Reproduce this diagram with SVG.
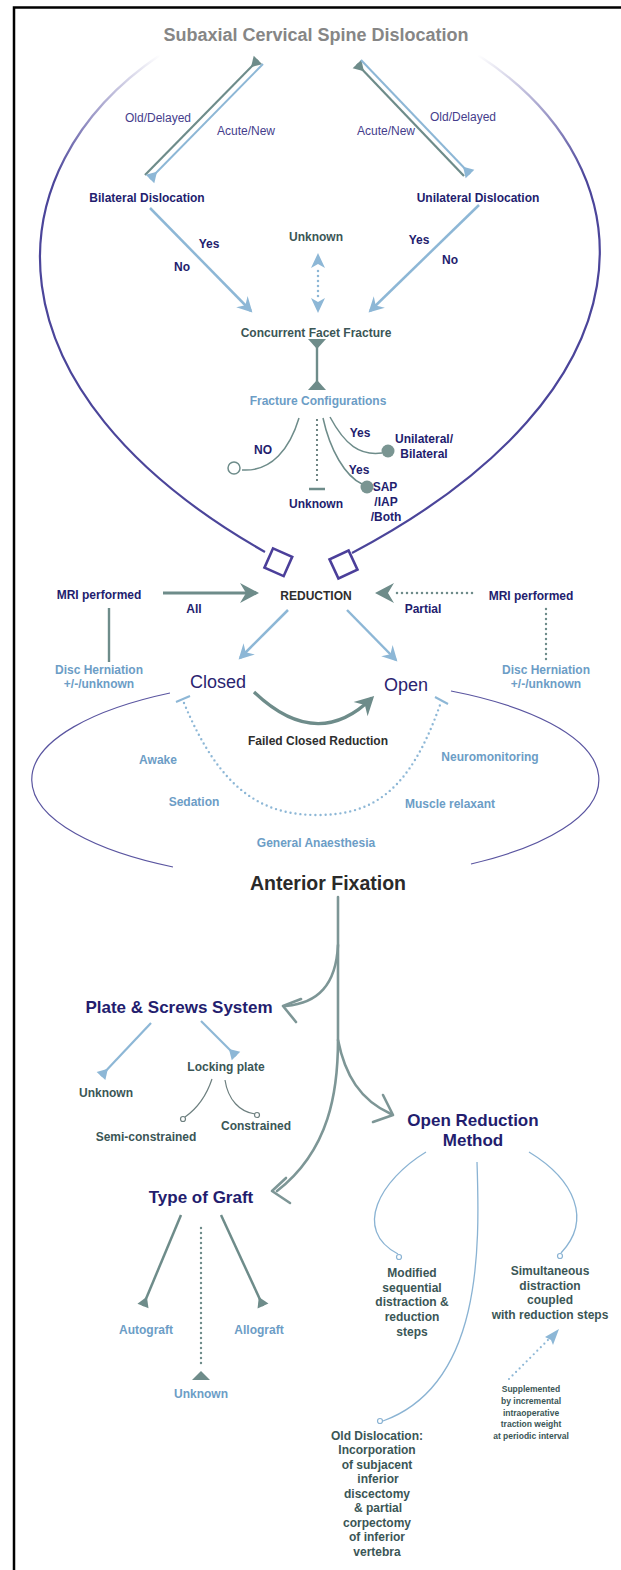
<svg xmlns="http://www.w3.org/2000/svg" width="621" height="1570" viewBox="0 0 621 1570">
<style>
text{font-family:"Liberation Sans",Arial,sans-serif;text-anchor:middle;font-weight:bold;font-size:12px}
.navy{fill:#231d6e}
.slate{fill:#3b5656}
.lb{fill:#6c9dc6}
.dk{fill:#2e2e2e}
.pur{fill:#453d8c;font-weight:normal}
.big{font-size:17px}
.teal{stroke:#6e8c8a;fill:none}
.blue{stroke:#8db7d6;fill:none}
.dot{stroke-dasharray:0 5;stroke-linecap:round}
.sk{stroke:#7d9696;fill:none;stroke-width:2.6;stroke-linecap:round;stroke-linejoin:round}
.thin{stroke:#8ab3d3;fill:none;stroke-width:1.3}
</style>
<defs>
<marker id="triT" markerUnits="userSpaceOnUse" viewBox="-11 -7 12 14" markerWidth="12" markerHeight="14" refX="0" refY="0" orient="auto"><path d="M0,-6 L0,6 L-10,0 z" fill="#6e8c8a"/></marker>
<marker id="triB" markerUnits="userSpaceOnUse" viewBox="-11 -7 12 14" markerWidth="12" markerHeight="14" refX="0" refY="0" orient="auto"><path d="M0,-6 L0,6 L-10,0 z" fill="#8db7d6"/></marker>
<marker id="arrB" markerUnits="userSpaceOnUse" viewBox="-16 -9 18 18" markerWidth="18" markerHeight="18" refX="-2" refY="0" orient="auto"><path d="M0,0 L-15,-8 L-10,0 L-15,8 z" fill="#8db7d6"/></marker>
<marker id="arrT" markerUnits="userSpaceOnUse" viewBox="-20 -11 22 22" markerWidth="22" markerHeight="22" refX="-3" refY="0" orient="auto"><path d="M0,0 L-19,-10 L-13,0 L-19,10 z" fill="#6e8c8a"/></marker>
<linearGradient id="fadeL" gradientUnits="userSpaceOnUse" x1="160" y1="55" x2="70" y2="190"><stop offset="0" stop-color="#4b459a" stop-opacity="0"/><stop offset="1" stop-color="#4b459a"/></linearGradient>
<linearGradient id="fadeR" gradientUnits="userSpaceOnUse" x1="478" y1="55" x2="565" y2="190"><stop offset="0" stop-color="#4b459a" stop-opacity="0"/><stop offset="1" stop-color="#4b459a"/></linearGradient>
</defs>
<rect width="621" height="1570" fill="#fff"/>
<path d="M14,1570 V7.5 H621" fill="none" stroke="#000" stroke-width="2.5"/>

<g id="connectors">
<!-- lens arcs -->
<path d="M160 55 C -10 170, -20 390, 265 552" fill="none" stroke="url(#fadeL)" stroke-width="2.2"/>
<path d="M478 55 C 655 170, 660 390, 352 553" fill="none" stroke="url(#fadeR)" stroke-width="2.2"/>
<!-- top double arrows -->
<line class="teal" x1="145" y1="175" x2="258" y2="60" stroke-width="2.2" marker-end="url(#triT)"/>
<line class="blue" x1="263" y1="64" x2="150" y2="179" stroke-width="2" marker-end="url(#triB)"/>
<line class="teal" x1="464" y1="176" x2="357" y2="64" stroke-width="2.2" marker-end="url(#triT)"/>
<line class="blue" x1="361" y1="60" x2="470" y2="174" stroke-width="2" marker-end="url(#triB)"/>
<!-- yes/no arrows -->
<line class="blue" x1="150" y1="208" x2="251" y2="311" stroke-width="2.5" marker-end="url(#arrB)"/>
<line class="blue" x1="479" y1="205" x2="370" y2="311" stroke-width="2.5" marker-end="url(#arrB)"/>
<!-- unknown dotted double arrow -->
<line class="blue dot" x1="318" y1="271" x2="318" y2="301" stroke-width="2.5"/>
<path d="M318,253 L311,268 L318,264 L325,268 z" fill="#8db7d6"/>
<path d="M318,313 L311,298 L318,302 L325,298 z" fill="#8db7d6"/>
<!-- concurrent -> configurations -->
<line class="teal" x1="317" y1="343" x2="317" y2="386" stroke-width="2.4"/>
<polygon points="308,339 326,339 317,349" fill="#6e8c8a"/>
<polygon points="308,390 326,390 317,380" fill="#6e8c8a"/>
<!-- fracture configuration branches -->
<path class="teal" d="M299 418 C 290 448, 272 472, 242 470" stroke-width="1.5"/>
<circle class="teal" cx="234" cy="468" r="6" stroke-width="1.5"/>
<line x1="317" y1="420" x2="317" y2="482" stroke="#4f6a68" stroke-width="2.2" class="dot"/>
<line x1="309" y1="489" x2="325" y2="489" stroke="#6e8c8a" stroke-width="2.5"/>
<path class="teal" d="M330 417 C 345 445, 360 456, 382 453" stroke-width="1.5"/>
<circle cx="388" cy="451" r="6.5" fill="#7a9592"/>
<path class="teal" d="M323 418 C 330 450, 345 476, 362 484" stroke-width="1.5"/>
<circle cx="367" cy="487" r="6.5" fill="#7a9592"/>
<!-- squares -->
<rect x="268" y="552" width="21" height="21" transform="rotate(24 279 562)" fill="none" stroke="#4b3f9a" stroke-width="2.6"/>
<rect x="333" y="554" width="21" height="21" transform="rotate(-25 343.5 564.5)" fill="none" stroke="#4b3f9a" stroke-width="2.6"/>
<!-- MRI / reduction -->
<line class="teal" x1="163" y1="593" x2="256" y2="593" stroke-width="3" marker-end="url(#arrT)"/>
<line class="teal dot" x1="472" y1="593" x2="394" y2="593" stroke-width="2.5"/>
<path d="M375,593 L394,583 L388,593 L394,603 z" fill="#6e8c8a"/>
<line class="teal" x1="109" y1="608" x2="109" y2="662" stroke-width="2.4"/>
<line class="teal dot" x1="546" y1="609" x2="546" y2="660" stroke-width="2.4"/>
<line class="blue" x1="288" y1="610" x2="240" y2="658" stroke-width="2.5" marker-end="url(#arrB)"/>
<line class="blue" x1="347" y1="610" x2="396" y2="660" stroke-width="2.5" marker-end="url(#arrB)"/>
<!-- failed closed reduction -->
<path class="teal" d="M254 692 Q 317 752 372 698" stroke-width="3.2" marker-end="url(#arrT)"/>
<!-- lower ellipse -->
<path d="M170 693 A284 101 0 0 0 173 867" fill="none" stroke="#5a55a0" stroke-width="1.2"/>
<path d="M451 691 A284 101 0 0 1 471 864" fill="none" stroke="#5a55a0" stroke-width="1.2"/>
<!-- dotted U -->
<path class="blue dot" d="M184 703 C 220 790, 262 815, 317 815 C 374 815, 410 790, 440 705" stroke-width="2.4"/>
<line class="blue" x1="176" y1="702" x2="190" y2="696" stroke-width="2"/>
<line class="blue" x1="435" y1="697" x2="448" y2="704" stroke-width="2"/>
<!-- anterior fixation tree -->
<path class="sk" d="M338 897 V1040 C 338 1090, 330 1150, 277 1191"/>
<polyline class="sk" points="286,1178 272,1191 290,1203"/>
<path class="sk" d="M338 945 C 336 985, 318 1003, 286 1006"/>
<polyline class="sk" points="301,999 283,1006 296,1022"/>
<path class="sk" d="M338 1040 C 345 1075, 360 1100, 391 1114"/>
<polyline class="sk" points="383,1095 393,1115 373,1122"/>
<!-- plate & screws -->
<line class="blue" x1="151" y1="1023" x2="101" y2="1076" stroke-width="2.2" marker-end="url(#triB)"/>
<line class="blue" x1="201" y1="1021" x2="236" y2="1056" stroke-width="2.2" marker-end="url(#triB)"/>
<path d="M212 1079 C 205 1100, 195 1110, 185 1117" fill="none" stroke="#6d7f7f" stroke-width="1.2"/>
<circle cx="183" cy="1119" r="2.5" fill="#fff" stroke="#6d7f7f" stroke-width="1.2"/>
<path d="M225 1080 C 228 1100, 240 1112, 255 1114" fill="none" stroke="#6d7f7f" stroke-width="1.2"/>
<circle cx="257" cy="1115" r="2.5" fill="#fff" stroke="#6d7f7f" stroke-width="1.2"/>
<!-- type of graft -->
<line class="teal" x1="181" y1="1215" x2="143" y2="1306" stroke-width="2.5" marker-end="url(#triT)"/>
<line class="teal" x1="221" y1="1215" x2="263" y2="1306" stroke-width="2.5" marker-end="url(#triT)"/>
<line class="teal dot" x1="201" y1="1228" x2="201" y2="1366" stroke-width="2.4"/>
<polygon points="192,1380 210,1380 201,1371" fill="#6e8c8a"/>
<!-- open reduction method -->
<path class="thin" d="M426 1152 C 380 1180, 352 1230, 398 1254"/>
<circle cx="399" cy="1257" r="2.5" fill="#fff" stroke="#8ab3d3" stroke-width="1.2"/>
<path class="thin" d="M529 1152 C 575 1180, 592 1220, 561 1253"/>
<circle cx="560" cy="1256" r="2.5" fill="#fff" stroke="#8ab3d3" stroke-width="1.2"/>
<path class="thin" d="M477 1162 C 480 1250, 482 1385, 383 1421"/>
<circle cx="380" cy="1421" r="2.5" fill="#fff" stroke="#8ab3d3" stroke-width="1.2"/>
<line class="blue dot" x1="509" y1="1379" x2="550" y2="1338" stroke-width="2.2"/>
<path d="M559,1329 L553,1345 L551,1340 L545,1337 z" fill="#8db7d6"/>
</g>

<g id="title"><text x="316" y="40.5" style="font-size:18px;fill:#868686">Subaxial Cervical Spine Dislocation</text></g>
<g id="edge-labels-top">
<text class="pur" x="158" y="122">Old/Delayed</text>
<text class="pur" x="246" y="135">Acute/New</text>
<text class="pur" x="386" y="135">Acute/New</text>
<text class="pur" x="463" y="121">Old/Delayed</text>
</g>
<g id="bilateral"><text class="navy" x="147" y="202">Bilateral Dislocation</text></g>
<g id="unilateral"><text class="navy" x="478" y="202">Unilateral Dislocation</text></g>
<g id="yes-no">
<text class="navy" x="209" y="248">Yes</text>
<text class="navy" x="182" y="271">No</text>
<text class="navy" x="419" y="244">Yes</text>
<text class="navy" x="450" y="264">No</text>
</g>
<g id="unknown-top"><text class="slate" x="316" y="241">Unknown</text></g>
<g id="concurrent"><text class="slate" x="316" y="337">Concurrent Facet Fracture</text></g>
<g id="configurations"><text class="lb" x="318" y="405">Fracture Configurations</text></g>
<g id="config-branches">
<text class="navy" x="263" y="454">NO</text>
<text class="navy" x="316" y="508">Unknown</text>
<text class="navy" x="360" y="437">Yes</text>
<text class="navy" x="359" y="474">Yes</text>
<text class="navy" x="424" y="443">Unilateral/</text>
<text class="navy" x="424" y="458">Bilateral</text>
<text class="navy" x="385" y="491">SAP</text>
<text class="navy" x="386" y="506">/IAP</text>
<text class="navy" x="386" y="521">/Both</text>
</g>
<g id="mri-left"><text class="navy" x="99" y="599">MRI performed</text><text class="navy" x="194" y="613">All</text></g>
<g id="reduction"><text class="dk" x="316" y="600">REDUCTION</text></g>
<g id="mri-right"><text class="navy" x="531" y="600">MRI performed</text><text class="navy" x="423" y="613">Partial</text></g>
<g id="disc-left"><text class="lb" x="99" y="674">Disc Herniation</text><text class="lb" x="99" y="688">+/-/unknown</text></g>
<g id="disc-right"><text class="lb" x="546" y="674">Disc Herniation</text><text class="lb" x="546" y="688">+/-/unknown</text></g>
<g id="closed"><text x="218" y="687.5" style="font-size:18px;font-weight:normal;fill:#2a2470">Closed</text></g>
<g id="open"><text x="406" y="690.5" style="font-size:18px;font-weight:normal;fill:#2a2470">Open</text></g>
<g id="failed"><text class="dk" x="318" y="745">Failed Closed Reduction</text></g>
<g id="anaesthesia">
<text class="lb" x="158" y="764">Awake</text>
<text class="lb" x="194" y="806">Sedation</text>
<text class="lb" x="316" y="847">General Anaesthesia</text>
<text class="lb" x="490" y="761">Neuromonitoring</text>
<text class="lb" x="450" y="808">Muscle relaxant</text>
</g>
<g id="anterior"><text x="328" y="890" style="font-size:19.5px;fill:#2a2a2a">Anterior Fixation</text></g>
<g id="plate"><text class="navy big" x="179" y="1013">Plate &amp; Screws System</text></g>
<g id="plate-children">
<text class="slate" x="106" y="1097">Unknown</text>
<text class="slate" x="226" y="1071">Locking plate</text>
<text class="slate" x="146" y="1141">Semi-constrained</text>
<text class="slate" x="256" y="1130">Constrained</text>
</g>
<g id="open-reduction"><text class="navy big" x="473" y="1126">Open Reduction</text><text class="navy big" x="473" y="1146">Method</text></g>
<g id="graft"><text class="navy big" x="201" y="1203">Type of Graft</text></g>
<g id="graft-children">
<text class="lb" x="146" y="1334">Autograft</text>
<text class="lb" x="259" y="1334">Allograft</text>
<text class="lb" x="201" y="1398">Unknown</text>
</g>
<g id="modified" class="slate">
<text class="slate" x="412" y="1277">Modified</text>
<text class="slate" x="412" y="1292">sequential</text>
<text class="slate" x="412" y="1306">distraction &amp;</text>
<text class="slate" x="412" y="1321">reduction</text>
<text class="slate" x="412" y="1336">steps</text>
</g>
<g id="simultaneous">
<text class="slate" x="550" y="1275">Simultaneous</text>
<text class="slate" x="550" y="1290">distraction</text>
<text class="slate" x="550" y="1304">coupled</text>
<text class="slate" x="550" y="1319">with reduction steps</text>
</g>
<g id="supplemented" style="font-size:8.5px">
<text class="slate" x="531" y="1392" style="font-size:8.5px">Supplemented</text>
<text class="slate" x="531" y="1404" style="font-size:8.5px">by incremental</text>
<text class="slate" x="531" y="1416" style="font-size:8.5px">intraoperative</text>
<text class="slate" x="531" y="1427" style="font-size:8.5px">traction weight</text>
<text class="slate" x="531" y="1439" style="font-size:8.5px">at periodic interval</text>
</g>
<g id="old-dislocation">
<text class="slate" x="377" y="1440">Old Dislocation:</text>
<text class="slate" x="377" y="1454">Incorporation</text>
<text class="slate" x="377" y="1469">of subjacent</text>
<text class="slate" x="378" y="1483">inferior</text>
<text class="slate" x="377" y="1498">discectomy</text>
<text class="slate" x="378" y="1512">&amp; partial</text>
<text class="slate" x="377" y="1527">corpectomy</text>
<text class="slate" x="377" y="1541">of inferior</text>
<text class="slate" x="377" y="1556">vertebra</text>
</g>
</svg>
